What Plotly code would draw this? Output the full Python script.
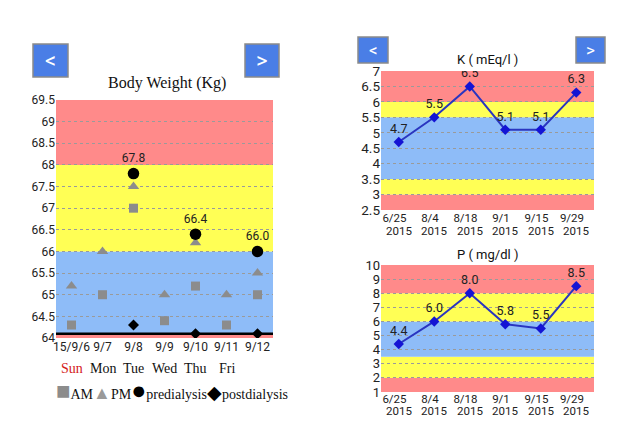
import plotly.graph_objects as go

# ---- Body weight data ----
bw_dates = ["15/9/6", "9/7", "9/8", "9/9", "9/10", "9/11", "9/12"]
bw_days = ["Sun", "Mon", "Tue", "Wed", "Thu", "Fri", ""]
bw_am = [64.3, 65.0, 67.0, 64.4, 65.2, 64.3, 65.0]
bw_pm = [65.2, 66.0, 67.5, 65.0, 66.2, 65.0, 65.5]
bw_pre = [None, None, 67.8, None, 66.4, None, 66.0]
bw_post = [None, None, 64.3, None, 64.1, None, 64.1]
dry_weight = 64.1
bw_ticks = [64, 64.5, 65, 65.5, 66, 66.5, 67, 67.5, 68, 68.5, 69, 69.5]
bw_bands = [(64.0, 64.1, "red"), (64.1, 66.0, "blue"), (66.0, 68.0, "yellow"), (68.0, 69.5, "red")]

# ---- Lab data ----
lab_dates = ["6/25", "8/4", "8/18", "9/1", "9/15", "9/29"]
lab_years = ["2015", "2015", "2015", "2015", "2015", "2015"]
k_vals = [4.7, 5.5, 6.5, 5.1, 5.1, 6.3]
k_labels = ["4.7", "5.5", "6.5", "5.1", "5.1", "6.3"]
k_ticks = [2.5, 3, 3.5, 4, 4.5, 5, 5.5, 6, 6.5, 7]
k_bands = [(2.5, 3.0, "red"), (3.0, 3.5, "yellow"), (3.5, 5.5, "blue"), (5.5, 6.0, "yellow"), (6.0, 7.0, "red")]
p_vals = [4.4, 6.0, 8.0, 5.8, 5.5, 8.5]
p_labels = ["4.4", "6.0", "8.0", "5.8", "5.5", "8.5"]
p_ticks = [1, 2, 3, 4, 5, 6, 7, 8, 9, 10]
p_bands = [(1, 2, "red"), (2, 3.5, "yellow"), (3.5, 6, "blue"), (6, 8, "yellow"), (8, 10, "red")]

COL = {"red": "#ff8a8a", "yellow": "#ffff55", "blue": "#8ebcf8"}
OFF = 8  # page body margin
W, H = 625 - 2 * OFF, 426 - 2 * OFF
SANS = "Roboto, Arial, sans-serif"
SERIF = "Liberation Serif, Times New Roman, serif"

def px_x(v):
    return (v - OFF) / W

def px_y(v):
    return 1 - (v - OFF) / H

fig = go.Figure()

lab_ticktext = [d + "\u00a0\u00a0\u00a0" for d in lab_dates]

# Body weight traces
fig.add_trace(go.Scatter(x=bw_dates, y=bw_am, mode="markers", name="AM",
                         marker=dict(symbol="square", size=9, color="#8c8c8c"), xaxis="x", yaxis="y"))
fig.add_trace(go.Scatter(x=bw_dates, y=bw_pm, mode="markers", name="PM",
                         marker=dict(symbol="triangle-up", size=10, color="#8c8c8c"), xaxis="x", yaxis="y"))
fig.add_trace(go.Scatter(x=bw_dates, y=bw_post, mode="markers", name="postdialysis",
                         marker=dict(symbol="diamond", size=8.5, color="black"), xaxis="x", yaxis="y"))
fig.add_trace(go.Scatter(x=bw_dates, y=bw_pre, mode="markers+text", name="predialysis",
                         text=[f"{v:.1f}" if v is not None else "" for v in bw_pre],
                         textposition="top center", textfont=dict(family=SANS, size=12, color="#222"),
                         marker=dict(symbol="circle", size=11.5, color="black"), xaxis="x", yaxis="y"))

# K trace
fig.add_trace(go.Scatter(x=lab_dates, y=k_vals, mode="lines+markers+text", text=k_labels,
                         textposition="top center", textfont=dict(family=SANS, size=12.5, color="#222"),
                         line=dict(color="#2a35c0", width=2),
                         marker=dict(symbol="diamond", size=8, color="#1414d4"), xaxis="x2", yaxis="y2"))
# P trace
fig.add_trace(go.Scatter(x=lab_dates, y=p_vals, mode="lines+markers+text", text=p_labels,
                         textposition="top center", textfont=dict(family=SANS, size=12.5, color="#222"),
                         line=dict(color="#2a35c0", width=2),
                         marker=dict(symbol="diamond", size=8, color="#1414d4"), xaxis="x3", yaxis="y3"))

shapes = []
def add_bands(bands, xref, yref):
    for lo, hi, c in bands:
        shapes.append(dict(type="rect", xref=xref + " domain", yref=yref, x0=0, x1=1, y0=lo, y1=hi,
                           fillcolor=COL[c], line=dict(width=0), layer="below"))

add_bands(bw_bands, "x", "y")
add_bands(k_bands, "x2", "y2")
add_bands(p_bands, "x3", "y3")
shapes.append(dict(type="line", xref="x domain", yref="y", x0=0, x1=1, y0=dry_weight, y1=dry_weight,
                   line=dict(color="black", width=2.5), layer="below"))

annotations = []
def button(x0, y0, x1, y1, label, size):
    shapes.append(dict(type="rect", xref="paper", yref="paper", x0=px_x(x0), x1=px_x(x1),
                       y0=px_y(y1), y1=px_y(y0), fillcolor="#4a7ee6",
                       line=dict(color="#8a8a8a", width=1.5)))
    annotations.append(dict(text=label, xref="paper", yref="paper", x=px_x((x0 + x1) / 2),
                            y=px_y((y0 + y1) / 2), showarrow=False,
                            font=dict(family=SANS, size=size, color="white"),
                            xanchor="center", yanchor="middle"))

button(33, 44, 68, 77, "<", 22)
button(245, 44, 279, 77, ">", 22)
button(358, 37, 388, 63, "<", 17)
button(576, 37, 605, 63, ">", 17)

# titles
annotations.append(dict(text="Body Weight (Kg)", xref="paper", yref="paper", x=px_x(167), y=px_y(83),
                        showarrow=False, font=dict(family=SERIF, size=16, color="#111"),
                        xanchor="center", yanchor="middle"))
annotations.append(dict(text="K ( mEq/l )", xref="paper", yref="paper", x=px_x(487), y=px_y(59),
                        showarrow=False, font=dict(family=SANS, size=13, color="#111"),
                        xanchor="center", yanchor="middle"))
annotations.append(dict(text="P ( mg/dl )", xref="paper", yref="paper", x=px_x(487), y=px_y(254),
                        showarrow=False, font=dict(family=SANS, size=13, color="#111"),
                        xanchor="center", yanchor="middle"))

# day labels
for d, day in zip(bw_dates, bw_days):
    if day:
        annotations.append(dict(text=day, xref="x", yref="paper", x=d, y=px_y(368), showarrow=False,
                                font=dict(family=SERIF, size=14, color="#d42020" if day == "Sun" else "#111"),
                                xanchor="center", yanchor="middle"))

# year line under lab dates
for xa, ypx in (("x2", 231), ("x3", 411)):
    for d, yr in zip(lab_dates, lab_years):
        annotations.append(dict(text=yr, xref=xa, yref="paper", x=d, y=px_y(ypx), showarrow=False,
                                font=dict(family=SANS, size=11.5, color="#222"),
                                xanchor="center", yanchor="middle"))

# legend as text
legend_txt = ("<span style='color:#8c8c8c;font-size:24px'>■</span>AM"
              "<span style='color:#9a9a9a;font-size:18px'>▲</span>PM"
              "<span style='color:black;font-size:25px'>●</span>predialysis"
              "<span style='color:black;font-size:19px'>◆</span>postdialysis")
annotations.append(dict(text=legend_txt, xref="paper", yref="paper", x=px_x(172), y=px_y(390),
                        showarrow=False, font=dict(family=SERIF, size=14, color="#111"),
                        xanchor="center", yanchor="middle"))

grid = dict(showgrid=True, gridcolor="#9a9a9a", griddash="dot", gridwidth=1)

fig.update_layout(
    width=W, height=H, margin=dict(l=0, r=0, t=0, b=0, autoexpand=False),
    paper_bgcolor="white", plot_bgcolor="white", showlegend=False,
    shapes=shapes, annotations=annotations,
    xaxis=dict(domain=[px_x(56), px_x(273)], anchor="y", type="category", range=[-0.5, 6.5],
               showgrid=False, tickangle=0, automargin=False,
               tickfont=dict(family=SANS, size=12, color="#222")),
    yaxis=dict(domain=[px_y(338), px_y(100)], anchor="x", range=[64, 69.5], tickvals=bw_ticks,
               ticktext=[f"{t:g}" for t in bw_ticks], tickfont=dict(family=SANS, size=12, color="#222"),
               zeroline=False, automargin=False, **grid),
    xaxis2=dict(domain=[px_x(381), px_x(594)], anchor="y2", type="category", range=[-0.5, 5.5],
                showgrid=False, tickvals=lab_dates, ticktext=lab_ticktext, tickangle=0, automargin=False,
                ticklabelstandoff=-1, tickfont=dict(family=SANS, size=11.5, color="#222")),
    yaxis2=dict(domain=[px_y(210), px_y(71)], anchor="x2", range=[2.5, 7], tickvals=k_ticks,
                ticktext=[f"{t:g}" for t in k_ticks], tickfont=dict(family=SANS, size=13.5, color="#222"),
                zeroline=False, automargin=False, **grid),
    xaxis3=dict(domain=[px_x(381), px_x(594)], anchor="y3", type="category", range=[-0.5, 5.5],
                showgrid=False, tickvals=lab_dates, ticktext=lab_ticktext, tickangle=0, automargin=False,
                ticklabelstandoff=-2, tickfont=dict(family=SANS, size=11.5, color="#222")),
    yaxis3=dict(domain=[px_y(392), px_y(265)], anchor="x3", range=[1, 10], tickvals=p_ticks,
                ticktext=[f"{t:g}" for t in p_ticks], tickfont=dict(family=SANS, size=13, color="#222"),
                zeroline=False, automargin=False, **grid),
)

fig.write_html("out.html")
